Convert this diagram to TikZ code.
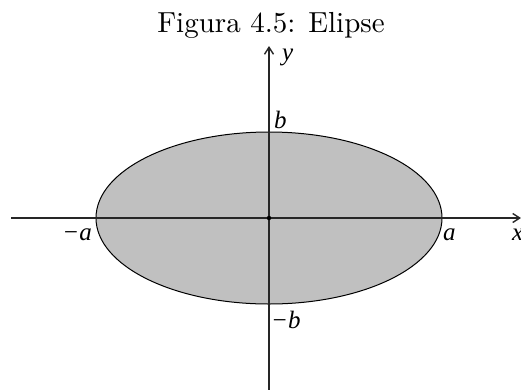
\documentclass[tikz,border=0pt]{standalone}
\usepackage{fontspec}
\setmainfont{lmroman10-regular.otf}
\newfontfamily\labfont{Liberation Serif}
\usetikzlibrary{arrows.meta}
\definecolor{ellgray}{RGB}{192,192,192}
\tikzset{
    axis/.style={line width=1.4pt, draw=black!85, -{Straight Barb[length=7pt,width=9pt]}},
    lab/.style={font=\fontsize{25}{25}\selectfont\labfont\itshape, inner sep=0pt},
}
\begin{document}
\begin{tikzpicture}[x=1pt,y=-1pt]
    \useasboundingbox (0,0) rectangle (521,389);

    \node [anchor=base, inner sep=0pt] (title) at (271,32)
        {\fontsize{29}{29}\selectfont Figura 4.5: Elipse};

    \coordinate (O) at (269,218);
    \coordinate (xl) at (11,218);
    \coordinate (xr) at (521,218);
    \coordinate (yb) at (269,392);
    \coordinate (yt) at (269,46);

    \draw [fill=ellgray, line width=1pt]
        (O) ellipse [x radius=173, y radius=86]
        ;

    \draw [axis] (xl) -- (xr);
    \draw [axis] (yb) -- (yt);

    \fill (O) circle (2.2);

    \node [lab, anchor=base west] (ly) at (282,60) {y};
    \node [lab, anchor=base west] (lb) at (274,128) {b};
    \node [lab, anchor=base west] (lmb) at (271,328) {−b};
    \node [lab, anchor=base east] (lma) at (92,240) {−a};
    \node [lab, anchor=base west] (la) at (443,240) {a};
    \node [lab, anchor=base west] (lx) at (512,240) {x};
\end{tikzpicture}
\end{document}
